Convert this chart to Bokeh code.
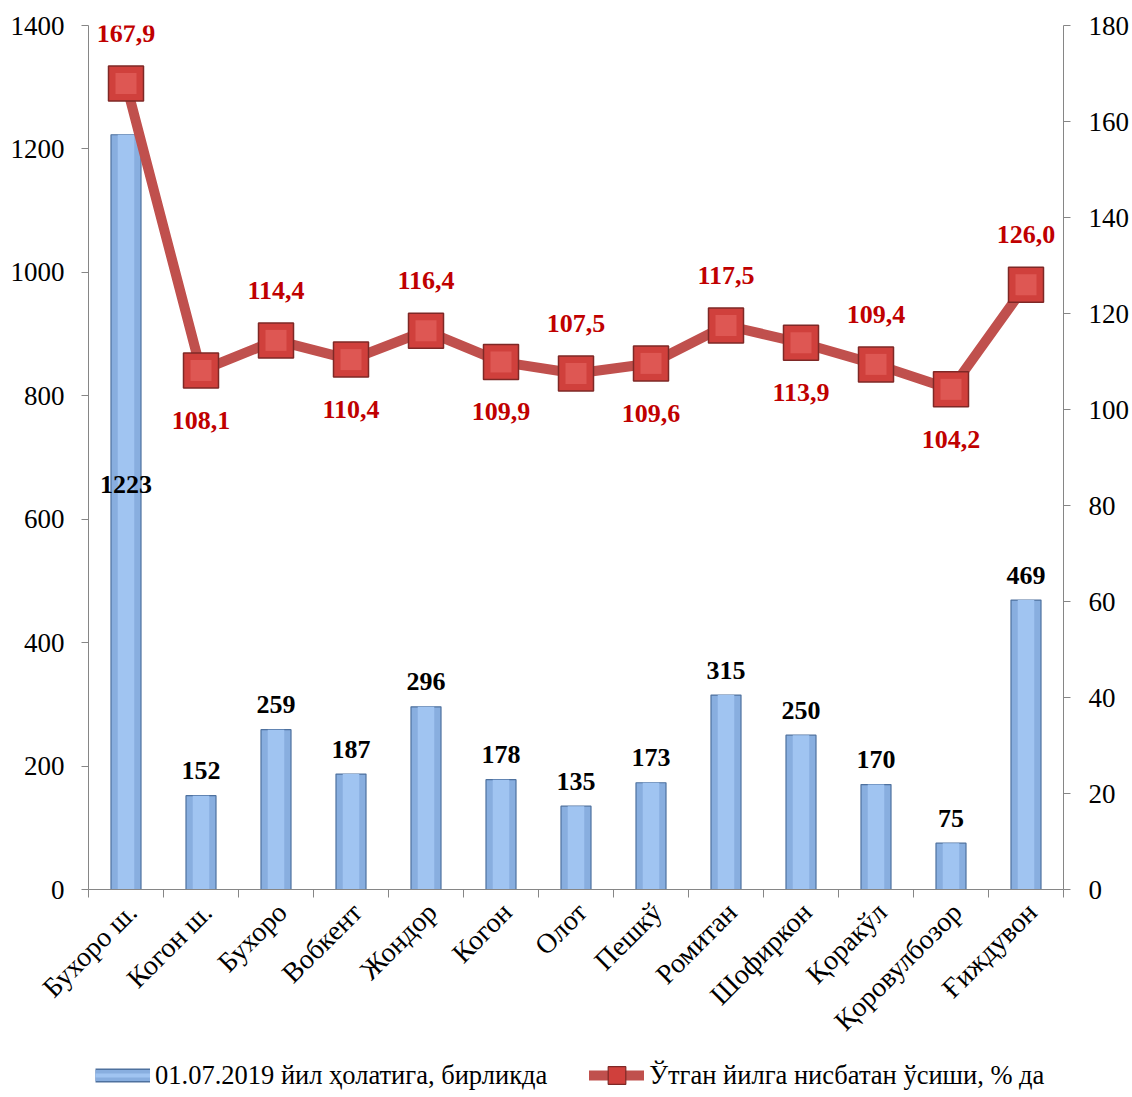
import math
from bokeh.plotting import figure
from bokeh.layouts import column
from bokeh.models import (Range1d, LinearAxis, FixedTicker, ColumnDataSource, Legend,
                          LegendItem, LabelSet, CustomJSTickFormatter)
from bokeh.embed import file_html
from bokeh.resources import INLINE

categories = ["Бухоро ш.", "Когон ш.", "Бухоро", "Вобкент", "Жондор", "Когон", "Олот",
              "Пешкў", "Ромитан", "Шофиркон", "Қоракўл", "Қоровулбозор", "Ғиждувон"]
counts = [1223, 152, 259, 187, 296, 178, 135, 173, 315, 250, 170, 75, 469]
growth = [167.9, 108.1, 114.4, 110.4, 116.4, 109.9, 107.5, 109.6, 117.5, 113.9, 109.4, 104.2, 126.0]
left_ticks = [0, 200, 400, 600, 800, 1000, 1200, 1400]
right_ticks = [0, 20, 40, 60, 80, 100, 120, 140, 160, 180]
series_names = ["01.07.2019 йил ҳолатига, бирликда", "Ўтган йилга нисбатан ўсиши, % да"]

FONT = "Liberation Serif"
GREY = "#868686"
BAR_FILL, BAR_LINE, BAR_HI = "#88AEDF", "#4E719E", "#A0C4F1"
LINE_COL, MK_FILL, MK_LINE, MK_HI = "#C0504D", "#D0403C", "#7E2826", "#DE5753"
n = len(categories)
centers = [i + 0.5 for i in range(n)]

p = figure(width=1132, height=1053, x_range=Range1d(0, n), y_range=Range1d(0, left_ticks[-1]),
           output_backend="svg", toolbar_location=None,
           min_border_left=88, min_border_right=69, min_border_top=25, min_border_bottom=164)
p.outline_line_color = None
p.xgrid.visible = False
p.ygrid.visible = False

# x axis (labels at category centres, tick marks at category boundaries)
xa = p.xaxis[0]
xa.ticker = FixedTicker(ticks=[c + 0.08 for c in centers], minor_ticks=list(range(n + 1)))
xa.formatter = CustomJSTickFormatter(args=dict(names=categories),
                                     code="return names[Math.floor(tick)] || '';")
xa.major_label_orientation = math.pi / 4
xa.axis_line_color = GREY
xa.major_tick_line_color = None
xa.minor_tick_line_color = GREY
xa.minor_tick_out = 8
xa.minor_tick_in = 0
xa.major_label_text_font = FONT
xa.major_label_text_font_size = "28px"
xa.major_label_text_color = "black"
xa.major_label_standoff = 10

# left axis
ya = p.yaxis[0]
ya.ticker = FixedTicker(ticks=left_ticks)
ya.axis_line_color = GREY
ya.major_tick_line_color = GREY
ya.major_tick_out = 7
ya.major_tick_in = 0
ya.minor_tick_line_color = None
ya.major_label_text_font = FONT
ya.major_label_text_font_size = "27px"
ya.major_label_text_color = "black"
ya.major_label_standoff = 17

# right axis
p.extra_y_ranges = {"pct": Range1d(0, right_ticks[-1])}
ra = LinearAxis(y_range_name="pct", ticker=FixedTicker(ticks=right_ticks))
ra.axis_line_color = GREY
ra.major_tick_line_color = GREY
ra.major_tick_out = 7
ra.major_tick_in = 0
ra.minor_tick_line_color = None
ra.major_label_text_font = FONT
ra.major_label_text_font_size = "27px"
ra.major_label_text_color = "black"
ra.major_label_standoff = 18
p.add_layout(ra, "right")

# bars
src = ColumnDataSource(dict(x=centers, top=counts))
p.vbar(x="x", top="top", width=0.4, bottom=0, source=src,
       fill_color=BAR_FILL, line_color=BAR_LINE, line_width=1.2)
p.vbar(x="x", top="top", width=0.22, bottom=0, source=src,
       fill_color=BAR_HI, line_color=None)

# line + markers
lsrc = ColumnDataSource(dict(
    x=centers, y=growth,
    lab=[f"{g:.1f}".replace(".", ",") for g in growth],
    off=[50 if i % 2 == 0 else -50 for i in range(n)]))
p.line(x="x", y="y", source=lsrc, y_range_name="pct", line_width=10, line_color=LINE_COL)
p.scatter(x="x", y="y", source=lsrc, y_range_name="pct", marker="square", size=35,
          fill_color=MK_FILL, line_color=MK_LINE, line_width=1.5)
p.scatter(x="x", y="y", source=lsrc, y_range_name="pct", marker="square", size=21,
          fill_color=MK_HI, line_color=None)

# labels
bsrc = ColumnDataSource(dict(x=centers[1:], y=counts[1:], lab=[str(c) for c in counts[1:]]))
p.add_layout(LabelSet(x="x", y="y", text="lab", source=bsrc, y_offset=25,
                      text_align="center", text_baseline="middle", text_font=FONT,
                      text_font_size="26px", text_font_style="bold", text_color="black"))
fsrc = ColumnDataSource(dict(x=centers[:1], y=[counts[0] / 2], lab=[str(counts[0])]))
p.add_layout(LabelSet(x="x", y="y", text="lab", source=fsrc, y_offset=28,
                      text_align="center", text_baseline="middle", text_font=FONT,
                      text_font_size="26px", text_font_style="bold", text_color="black"))
p.add_layout(LabelSet(x="x", y="y", text="lab", source=lsrc, y_range_name="pct", y_offset="off",
                      text_align="center", text_baseline="middle", text_font=FONT,
                      text_font_size="26px", text_font_style="bold", text_color="#C00000"))

# legend strip (separate figure so that it sits below the rotated category labels);
# its swatch renderers hold points outside the visible range
lg = figure(width=1132, height=44, x_range=Range1d(0, 1), y_range=Range1d(0, 1),
            output_backend="svg", toolbar_location=None,
            x_axis_location=None, y_axis_location=None, min_border=0)
lg.outline_line_color = None
lg.xgrid.visible = False
lg.ygrid.visible = False
off_pt = ColumnDataSource(dict(x=[-5, -4], y=[-5, -5]))
lb1 = lg.line(x="x", y="y", source=off_pt, line_width=14, line_color=BAR_LINE)
lb2 = lg.line(x="x", y="y", source=off_pt, line_width=11, line_color=BAR_FILL)
lb3 = lg.line(x="x", y="y", source=off_pt, line_width=4, line_color=BAR_HI)
ll = lg.line(x="x", y="y", source=off_pt, line_width=10, line_color=LINE_COL, line_cap="round")
lm = lg.scatter(x="x", y="y", source=off_pt, marker="square", size=35,
                fill_color=MK_FILL, line_color=MK_LINE, line_width=1.2)
legend = Legend(items=[LegendItem(label=series_names[0], renderers=[lb1, lb2, lb3]),
                       LegendItem(label=series_names[1], renderers=[ll, lm])],
                orientation="horizontal", location=(7, 0),
                label_text_font=FONT, label_text_font_size="26.5px", label_text_color="black",
                glyph_width=55, glyph_height=44, border_line_color=None,
                background_fill_alpha=0, spacing=42, padding=0, margin=0, label_standoff=5)
lg.add_layout(legend, "center")

layout = column(p, lg, spacing=0)
open("out.html", "w").write(file_html(layout, INLINE))
